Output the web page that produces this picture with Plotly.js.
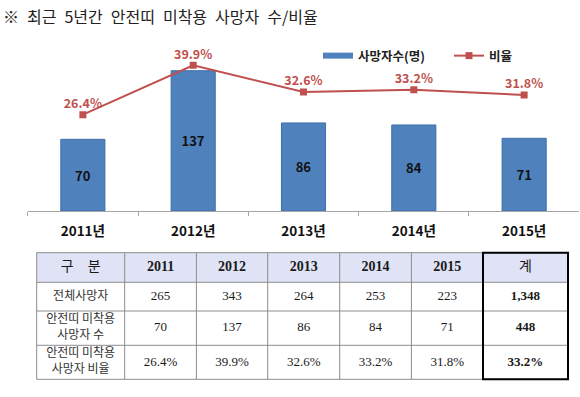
<!DOCTYPE html>
<html>
<head>
<meta charset="utf-8">
<script src="https://cdn.plot.ly/plotly-3.0.1.min.js"></script>
<style>html,body{margin:0;padding:0;background:#fff;}#chart{width:580px;height:397px;}</style>
</head>
<body>
<div id="chart"></div>
<script>
// ---- data ----
const years = ['2011', '2012', '2013', '2014', '2015'];
const yearLabels = ['2011년', '2012년', '2013년', '2014년', '2015년'];
const deaths = [70, 137, 86, 84, 71];              // 안전띠 미착용 사망자 수
const ratio = [26.4, 39.9, 32.6, 33.2, 31.8];       // 비율 (%)
const totalDeaths = [265, 343, 264, 253, 223];      // 전체사망자
const sumTotal = '1,348';
const sumDeaths = '448';
const sumRatio = '33.2%';
const rowLabels = ['전체사망자', '안전띠 미착용<br>사망자 수', '안전띠 미착용<br>사망자 비율'];
const headerFirst = '구\u2003분';
const headerLast = '계';
const seriesNames = ['사망자수(명)', '비율'];
const titleText = '※\u2002최근\u20025년간\u2002안전띠\u2002미착용\u2002사망자\u2002수/비율';

// ---- layout constants (pixels) ----
const W = 580, H = 397;
const CJK = 'Noto Sans CJK KR, sans-serif';
const SERIF = 'Liberation Serif, Noto Sans CJK KR, serif';
const plotTop = 40, plotBottom = 211;
const colW = [88, 71.7, 71.3, 72, 71.7, 71.6, 85];
const rowH = [29.6, 28.7, 34.3, 34];
const tblLeft = 36.7, tblTop = 252.7, pad = 3;

const BLUE = '#4F81BD', RED = '#C0504D';

// ---- chart traces ----
const barTrace = {
  type: 'bar', name: seriesNames[0], showlegend: false,
  x: yearLabels, y: deaths,
  marker: {color: BLUE, line: {color: '#3F6FA8', width: 1}},
  text: deaths.map(String), textposition: 'inside', insidetextanchor: 'middle',
  textfont: {family: CJK, size: 13, color: '#111', weight: 'bold'},
  hoverinfo: 'skip', xaxis: 'x', yaxis: 'y'
};
const barLegend = {   // legend swatch only (wide bar-coloured strip as in the source)
  type: 'scatter', mode: 'lines', name: seriesNames[0],
  x: [null], y: [null], line: {color: BLUE, width: 6},
  hoverinfo: 'skip', xaxis: 'x', yaxis: 'y'
};
const lineTrace = {
  type: 'scatter', name: seriesNames[1], mode: 'lines+markers',
  x: yearLabels, y: ratio,
  line: {color: RED, width: 2},
  marker: {color: RED, symbol: 'square', size: 7},
  hoverinfo: 'skip', xaxis: 'x', yaxis: 'y2'
};
const lineLabels = {
  type: 'scatter', mode: 'markers+text', showlegend: false,
  x: yearLabels, y: ratio,
  marker: {size: 4, color: 'rgba(0,0,0,0)'},
  text: ratio.map(v => v.toFixed(1) + '%'), textposition: 'top center',
  textfont: {family: CJK, size: 12.5, color: RED, weight: 'bold'},
  cliponaxis: false,
  hoverinfo: 'skip', xaxis: 'x', yaxis: 'y2'
};

// ---- table (own invisible subplot, units = pixels) ----
const colEdges = [0];
colW.forEach(w => colEdges.push(colEdges[colEdges.length - 1] + w));
const rowEdges = [0];
rowH.forEach(h => rowEdges.push(rowEdges[rowEdges.length - 1] + h));
const tblW = colEdges[colEdges.length - 1], tblH = rowEdges[rowEdges.length - 1];
const colC = colW.map((w, i) => colEdges[i] + w / 2);
const rowC = rowH.map((h, i) => rowEdges[i] + h / 2);

const grid = [];
grid.push([{t: headerFirst, f: CJK, s: 14, c: '#1a1a1a'}]
  .concat(years.map(y => ({t: '<b>' + y + '</b>', f: SERIF, s: 14, c: '#1a1a1a'})))
  .concat([{t: headerLast, f: CJK, s: 14, c: '#1a1a1a'}]));
const bodyVals = [
  totalDeaths.map(String),
  deaths.map(String),
  ratio.map(v => v.toFixed(1) + '%')
];
const sums = [sumTotal, sumDeaths, sumRatio];
for (let r = 0; r < 3; r++) {
  grid.push([{t: rowLabels[r], f: CJK, s: 12, c: '#333'}]
    .concat(bodyVals[r].map(v => ({t: v, f: SERIF, s: 13, c: '#1a1a1a'})))
    .concat([{t: '<b>' + sums[r] + '</b>', f: SERIF, s: 13, c: '#1a1a1a'}]));
}
const tx = [], ty = [], tt = [], tf = [], ts = [], tc = [];
grid.forEach((row, r) => row.forEach((c, ci) => {
  tx.push(colC[ci]); ty.push(rowC[r]); tt.push(c.t); tf.push(c.f); ts.push(c.s); tc.push(c.c);
}));
const tableText = {
  type: 'scatter', mode: 'text', x: tx, y: ty, text: tt,
  textposition: 'middle center',
  textfont: {family: tf, size: ts, color: tc},
  showlegend: false, hoverinfo: 'skip', cliponaxis: false,
  xaxis: 'x3', yaxis: 'y3'
};

const shapes = [];
shapes.push({type: 'rect', xref: 'x3', yref: 'y3', x0: 0, x1: tblW, y0: 0, y1: rowH[0],
             fillcolor: '#DFE3F5', line: {width: 0}, layer: 'below'});
colEdges.forEach(x => shapes.push({type: 'line', xref: 'x3', yref: 'y3', x0: x, x1: x, y0: 0, y1: tblH,
                                   line: {color: '#8C8C8C', width: 1}}));
rowEdges.forEach(y => shapes.push({type: 'line', xref: 'x3', yref: 'y3', x0: 0, x1: tblW, y0: y, y1: y,
                                   line: {color: '#8C8C8C', width: 1}}));
shapes.push({type: 'rect', xref: 'x3', yref: 'y3', x0: colEdges[6], x1: colEdges[7], y0: 0, y1: tblH,
             line: {color: '#000', width: 2}, fillcolor: 'rgba(0,0,0,0)'});

const layout = {
  width: W, height: H,
  margin: {l: 0, r: 0, t: 0, b: 0},
  paper_bgcolor: '#fff', plot_bgcolor: 'rgba(0,0,0,0)',
  showlegend: true,
  legend: {orientation: 'h', x: 318 / W, y: 1 - 56 / H, yanchor: 'middle', xanchor: 'left',
           font: {family: CJK, size: 12.5, color: '#222', weight: 'bold'},
           bgcolor: 'rgba(0,0,0,0)', itemwidth: 30, tracegroupgap: 0,
           entrywidth: 86, entrywidthmode: 'pixels'},
  bargap: 0.6,
  title: {text: titleText,
          x: 3 / W, xanchor: 'left', y: 1 - 17 / H, yanchor: 'middle',
          font: {family: CJK, size: 16, color: '#222'}},
  xaxis: {domain: [27.7 / W, 579.3 / W], anchor: 'y', type: 'category',
          showline: true, linecolor: '#A6A6A6', linewidth: 1,
          ticks: 'outside', tickson: 'boundaries', ticklen: 4, tickcolor: '#A6A6A6',
          ticklabelstandoff: 8,
          showgrid: false, zeroline: false,
          tickfont: {family: CJK, size: 13.5, color: '#111', weight: 'bold'}},
  yaxis: {domain: [1 - plotBottom / H, 1 - plotTop / H], range: [0, (plotBottom - plotTop) / 1.024],
          visible: false, showgrid: false, zeroline: false},
  yaxis2: {domain: [1 - plotBottom / H, 1 - plotTop / H], overlaying: 'y', anchor: 'x',
           range: [0, (plotBottom - plotTop) / 3.65], visible: false, showgrid: false, zeroline: false},
  xaxis3: {domain: [(tblLeft - pad) / W, (tblLeft + tblW + pad) / W], range: [-pad, tblW + pad],
           anchor: 'y3', visible: false, showgrid: false, zeroline: false},
  yaxis3: {domain: [1 - (tblTop + tblH + pad) / H, 1 - (tblTop - pad) / H], range: [tblH + pad, -pad],
           anchor: 'x3', visible: false, showgrid: false, zeroline: false},
  shapes: shapes
};

Plotly.newPlot('chart', [barTrace, barLegend, lineTrace, lineLabels, tableText], layout,
               {displayModeBar: false, staticPlot: true});
</script>
</body>
</html>
